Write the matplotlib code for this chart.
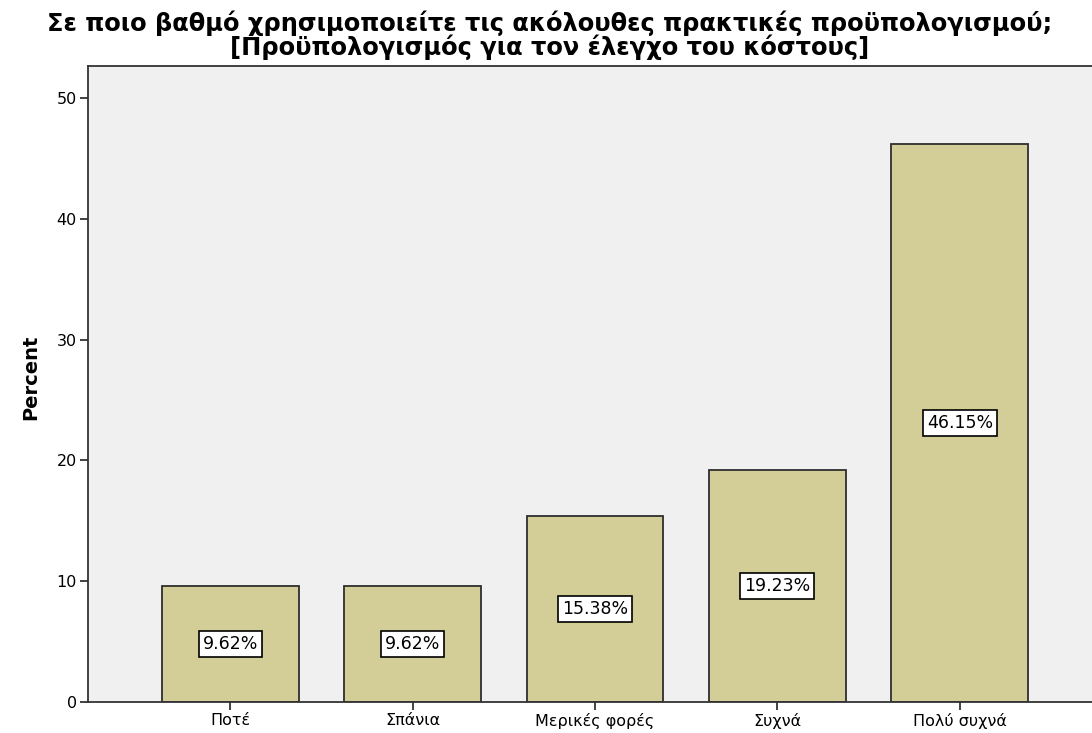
import matplotlib.pyplot as plt

plt.rcParams['font.family'] = ['DejaVu Sans']

categories = ['Ποτέ', 'Σπάνια', 'Μερικές φορές', 'Συχνά', 'Πολύ συχνά']
percent = [9.62, 9.62, 15.38, 19.23, 46.15]
yticks = [0, 10, 20, 30, 40, 50]

fig = plt.figure(figsize=(10.92, 7.33), dpi=100)
ax = fig.add_axes([0.0806, 0.0423, 0.9286, 0.8677])
ax.set_facecolor('#f0f0f0')

x = range(len(categories))
ax.bar(x, percent, width=0.75, color='#d3ce97', edgecolor='#2e2e2e', linewidth=1.3)

# percentage labels in white boxes, halfway up each bar
for xi, v in zip(x, percent):
    ax.text(xi, v / 2, f'{v:.2f}%', ha='center', va='center', fontsize=12.5,
            bbox=dict(boxstyle='square,pad=0.22', fc='white', ec='black', lw=1.2))

ax.set_xlim(-0.78, 4.78)
ax.set_ylim(0, 52.65)
ax.set_xticks(list(x))
ax.set_xticklabels(categories, fontsize=11.5)
ax.set_yticks(yticks)
ax.tick_params(axis='y', labelsize=11.5, length=6, width=1.3, color='#333333', pad=2)
ax.tick_params(axis='x', length=6, width=1.3, color='#333333', pad=2)
for side in ['left', 'bottom', 'top', 'right']:
    ax.spines[side].set_color('#333333')
    ax.spines[side].set_linewidth(1.3)

ax.set_ylabel('Percent', fontsize=14, fontweight='bold')
ax.yaxis.set_label_coords(-0.047, 0.51)

fig.text(0.503, 0.952, 'Σε ποιο βαθμό χρησιμοποιείτε τις ακόλουθες πρακτικές προϋπολογισμού;\n[Προϋπολογισμός για τον έλεγχο του κόστους]',
         ha='center', va='center', fontsize=17.4, fontweight='bold', linespacing=0.93)

fig.savefig('out.png', dpi=100)
